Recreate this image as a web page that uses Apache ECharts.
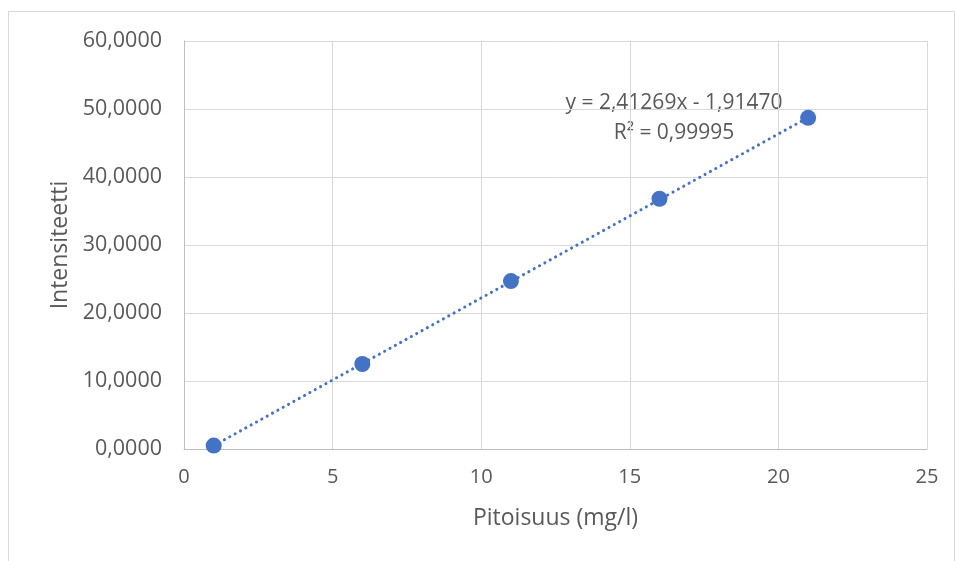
<!DOCTYPE html>
<html>
<head>
<meta charset="utf-8">
<script src="https://cdn.jsdelivr.net/npm/echarts@6/dist/echarts.min.js"></script>
<style>
  html, body { margin: 0; padding: 0; background: #ffffff; }
  #chart { width: 956px; height: 561px; }
</style>
</head>
<body>
<div id="chart"></div>
<script>
// measured points
const pitoisuus = [1, 6, 11, 16, 21];
const intensiteetti = [0.5, 12.5, 24.7, 36.8, 48.7];
// trendline ends as drawn
const trendX = [1, 21];
const trendY = [0.5, 48.75];
const equationText = 'y = 2,41269x - 1,91470';
const r2Text = 'R² = 0,99995';

const blue = '#4472C4';
const textGrey = '#595959';
const fontName = 'Open Sans';

const chart = echarts.init(document.getElementById('chart'), null, {renderer: 'canvas'});

const option = {
    backgroundColor: '#ffffff',
    animation: false,
    grid: {left: 184, right: 29, top: 41, bottom: 112},
    xAxis: {
        type: 'value',
        min: 0,
        max: 25,
        interval: 5,
        name: 'Pitoisuus (mg/l)',
        nameLocation: 'middle',
        nameGap: 58,
        nameTextStyle: {color: textGrey, fontSize: 23, fontFamily: fontName},
        axisLine: {show: true, lineStyle: {color: '#bfbfbf', width: 1}},
        axisTick: {show: false},
        axisLabel: {color: textGrey, fontSize: 20, fontFamily: fontName, margin: 18},
        splitLine: {show: true, lineStyle: {color: '#d9d9d9', width: 1}}
    },
    yAxis: {
        type: 'value',
        min: 0,
        max: 60,
        interval: 10,
        name: 'Intensiteetti',
        nameLocation: 'middle',
        nameGap: 112,
        nameTextStyle: {color: textGrey, fontSize: 23, fontFamily: fontName},
        axisLine: {show: true, lineStyle: {color: '#bfbfbf', width: 1}},
        axisTick: {show: false},
        axisLabel: {
            color: textGrey, fontSize: 21.5, fontFamily: fontName, margin: 22,
            formatter: function (v) { return v.toFixed(4).replace('.', ','); }
        },
        splitLine: {show: true, lineStyle: {color: '#d9d9d9', width: 1}}
    },
    series: [
        {
            type: 'line',
            data: trendX.map(function (x, i) { return [x, trendY[i]]; }),
            symbol: 'none',
            lineStyle: {color: blue, width: 3, type: [0.1, 6], cap: 'round'},
            z: 2
        },
        {
            type: 'scatter',
            data: pitoisuus.map(function (x, i) { return [x, intensiteetti[i]]; }),
            symbol: 'circle',
            symbolSize: 16,
            itemStyle: {color: blue, opacity: 1},
            z: 3
        }
    ],
    graphic: [
        {
            type: 'rect',
            shape: {x: 8.5, y: 11.5, width: 946, height: 560},
            style: {fill: 'none', stroke: '#d9d9d9', lineWidth: 1},
            silent: true
        },
        {
            type: 'text',
            x: 674, y: 103,
            style: {text: equationText, fill: textGrey, font: '21px "Open Sans"', textAlign: 'center', textVerticalAlign: 'middle'}
        },
        {
            type: 'text',
            x: 674, y: 133,
            style: {text: r2Text, fill: textGrey, font: '21px "Open Sans"', textAlign: 'center', textVerticalAlign: 'middle'}
        }
    ]
};

chart.setOption(option);
</script>
</body>
</html>
